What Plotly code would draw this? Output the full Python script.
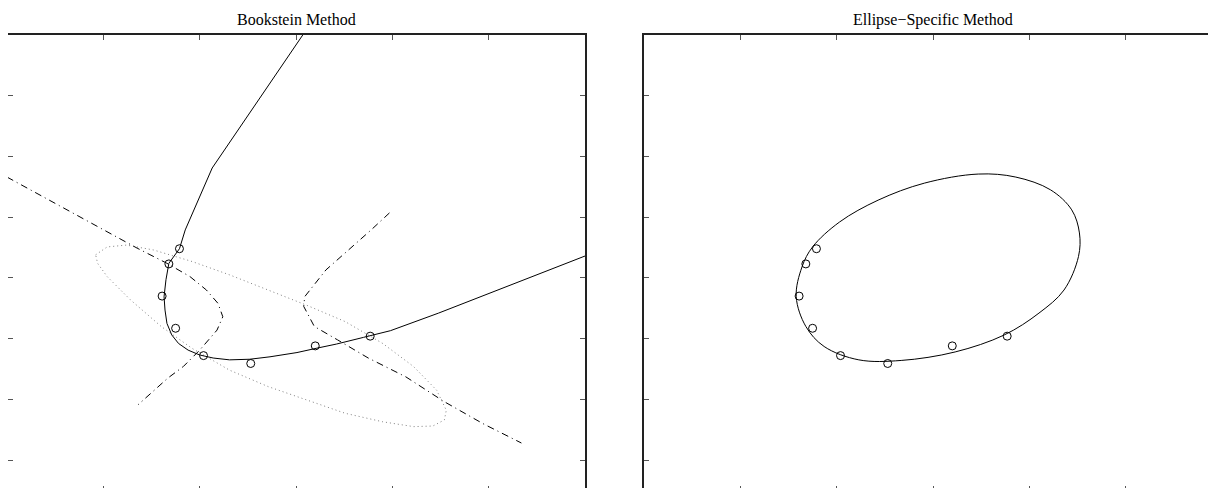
import plotly.graph_objects as go
from plotly.subplots import make_subplots

# data points (same set in both panels)
pts_x = [1.79, 1.68, 1.61, 1.75, 2.04, 2.53, 3.20, 3.77]
pts_y = [3.48, 3.23, 2.70, 2.17, 1.72, 1.59, 1.88, 2.04]

# Bookstein fit (solid hyperbola branch)
book_x = [3.07, 2.13, 1.85, 1.79, 1.68, 1.65, 1.63, 1.64, 1.66, 1.71, 1.78, 1.88, 2.00, 2.14, 2.31,
          2.52, 2.73, 3.01, 3.21, 3.42, 3.70, 3.98, 4.48, 6.00]
book_y = [7.00, 4.81, 3.79, 3.48, 3.24, 2.97, 2.69, 2.47, 2.25, 2.06, 1.92, 1.81, 1.73, 1.68, 1.65,
          1.66, 1.70, 1.77, 1.84, 1.91, 2.02, 2.13, 2.42, 3.36]

# other eigen-solutions: dotted ellipse
dot_x = [0.92, 1.04, 1.24, 1.52, 1.92, 2.31, 2.71, 3.11, 3.51, 3.90, 4.22, 4.46, 4.56, 4.54, 4.42,
         4.22, 3.90, 3.51, 3.11, 2.71, 2.31, 1.92, 1.60, 1.28, 1.04, 0.94, 0.92]
dot_y = [3.38, 3.51, 3.54, 3.46, 3.27, 3.05, 2.80, 2.55, 2.28, 1.92, 1.54, 1.15, 0.82, 0.66, 0.56,
         0.55, 0.63, 0.77, 0.99, 1.21, 1.48, 1.84, 2.20, 2.64, 3.02, 3.24, 3.38]

# dash-dot hyperbola, two branches
hypL_x = [0.00, 1.00, 1.35, 1.66, 1.90, 2.07, 2.19, 2.24, 2.18, 2.00, 1.83, 1.67, 1.36]
hypL_y = [4.66, 3.79, 3.49, 3.24, 3.02, 2.80, 2.58, 2.36, 2.14, 1.81, 1.54, 1.35, 0.91]
hypR_x = [3.97, 3.78, 3.31, 3.09, 3.08, 3.19, 3.43, 3.75, 4.14, 4.54, 4.94, 5.34]
hypR_y = [4.07, 3.79, 3.13, 2.69, 2.53, 2.20, 1.98, 1.68, 1.37, 0.96, 0.60, 0.28]

# ellipse-specific fit
ell_x = [1.75, 2.03, 2.43, 2.91, 3.47, 3.86, 4.22, 4.44, 4.52, 4.51, 4.36, 4.10, 3.74, 3.23, 2.67,
         2.23, 1.87, 1.68, 1.58, 1.64, 1.75]
ell_y = [3.51, 3.92, 4.28, 4.56, 4.71, 4.66, 4.45, 4.12, 3.74, 3.35, 2.80, 2.42, 2.06, 1.78, 1.64,
         1.65, 1.87, 2.20, 2.69, 3.18, 3.51]

titles = ["Bookstein Method", "Ellipse\u2212Specific Method"]

fig = make_subplots(rows=1, cols=2)

blk = dict(color="black", width=1)
dashdot = dict(color="black", width=1, dash="7px,4px,1px,4px")
circ = dict(symbol="circle-open", size=8, color="black", line=dict(width=1))

fig.add_trace(go.Scatter(x=dot_x, y=dot_y, mode="lines",
                         line=dict(color="#808080", width=1, dash="1px,3px")), 1, 1)
fig.add_trace(go.Scatter(x=hypL_x, y=hypL_y, mode="lines", line=dashdot), 1, 1)
fig.add_trace(go.Scatter(x=hypR_x, y=hypR_y, mode="lines", line=dashdot), 1, 1)
fig.add_trace(go.Scatter(x=book_x, y=book_y, mode="lines", line=blk), 1, 1)
fig.add_trace(go.Scatter(x=pts_x, y=pts_y, mode="markers", marker=circ), 1, 1)

fig.add_trace(go.Scatter(x=ell_x, y=ell_y, mode="lines", line=dict(color="black", width=1, shape="spline")), 1, 2)
fig.add_trace(go.Scatter(x=pts_x, y=pts_y, mode="markers", marker=circ), 1, 2)

# page has an 8px body margin; the bottom and far-right box edges fall outside the window
W, H = 1216, 488
fig.update_xaxes(showgrid=False, zeroline=False, showticklabels=False, ticks="inside",
                 ticklen=5, tickcolor="#555555", tickwidth=1, dtick=1,
                 showline=True, linecolor="#222222", linewidth=1.5, mirror="ticks")
fig.update_yaxes(showgrid=False, zeroline=False, showticklabels=False, ticks="inside",
                 ticklen=5, tickcolor="#555555", tickwidth=1, dtick=1, tick0=0,
                 showline=True, linecolor="#222222", linewidth=1.5, mirror="ticks",
                 range=[-0.51, 7.0])
fig.update_xaxes(range=[0.01, 6], domain=[0, 577 / W], row=1, col=1)
fig.update_xaxes(range=[0, 6], domain=[636 / W, 1214 / W], row=1, col=2)

for t, cx in zip(titles, [288 / W, 925 / W]):
    fig.add_annotation(text=t, x=cx, y=1 + 26 / 456, xref="paper", yref="paper",
                       showarrow=False, xanchor="center", yanchor="top",
                       font=dict(family="Liberation Serif", size=16, color="black"))

fig.update_layout(width=W, height=H, margin=dict(l=0, r=0, t=27, b=5),
                  plot_bgcolor="white", paper_bgcolor="white", showlegend=False)

fig.write_html("out.html")
